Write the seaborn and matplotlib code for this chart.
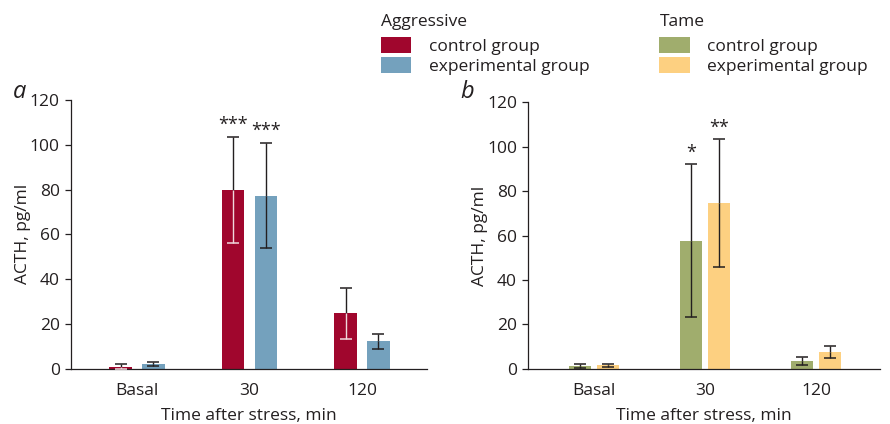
import matplotlib
matplotlib.use("Agg")
import matplotlib.pyplot as plt
import seaborn as sns
import pandas as pd
import numpy as np
from matplotlib.patches import Patch

# ---------------- data ----------------
times = ["Basal", "30", "120"]
groups = ["control group", "experimental group"]

aggr_control = [0.9, 79.8, 24.7]
aggr_control_err = [1.0, 23.7, 11.5]
aggr_exp = [2.2, 77.3, 12.2]
aggr_exp_err = [1.0, 23.6, 3.2]

tame_control = [1.3, 57.6, 3.4]
tame_control_err = [0.8, 34.5, 1.7]
tame_exp = [1.5, 74.6, 7.6]
tame_exp_err = [0.6, 28.7, 2.8]

aggr_stars = ["", "***", "", "", "***", ""]     # control..., experimental...
tame_stars = ["", "*", "", "", "**", ""]

y_ticks = [0, 20, 40, 60, 80, 100, 120]

# ---------------- style ----------------
TXT = "#231f20"
aggr_colors = ["#a0062d", "#74a1bd"]
tame_colors = ["#a0ad6d", "#fdd081"]
FONT = ["Open Sans", "DejaVu Sans"]

sns.set_theme(style="ticks")
plt.rcParams["font.family"] = FONT
plt.rcParams["text.color"] = TXT
plt.rcParams["axes.labelcolor"] = TXT
plt.rcParams["xtick.color"] = TXT
plt.rcParams["ytick.color"] = TXT
plt.rcParams["axes.edgecolor"] = TXT

fig = plt.figure(figsize=(8.9, 4.24), dpi=100)
ax_a = fig.add_axes([0.0798, 0.1304, 0.400, 0.6338])
ax_b = fig.add_axes([0.5933, 0.1304, 0.3955, 0.6280])


def make_df(c, e):
    return pd.DataFrame({
        "time": times * 2,
        "group": [groups[0]] * 3 + [groups[1]] * 3,
        "value": list(c) + list(e),
    })


def panel(ax, c, ce, e, ee, colors, stars, width, gap, inner_colors, star_offsets, xlim):
    df = make_df(c, e)
    sns.barplot(data=df, x="time", y="value", hue="group", order=times,
                hue_order=groups, palette=colors, errorbar=None, width=width,
                gap=gap, saturation=1, ax=ax, legend=False, linewidth=0)
    means = list(c) + list(e)
    errs = list(ce) + list(ee)
    inners = [inner_colors[0]] * 3 + [inner_colors[1]] * 3
    bars = [p for p in ax.patches]
    # seaborn adds patches hue by hue, in order
    for i, p in enumerate(bars[:6]):
        x = p.get_x() + p.get_width() / 2
        m, er = means[i], errs[i]
        ax.plot([x, x], [m, m + er], color=TXT, lw=1.0, zorder=3, solid_capstyle="butt")
        ax.plot([x], [m + er], marker="_", ms=8.5, mew=1.1, color=TXT, zorder=3)
        ax.plot([x, x], [m - er, m], color=inners[i], lw=1.0, zorder=3, solid_capstyle="butt")
        ax.plot([x], [max(m - er, 0)], marker="_", ms=8.5, mew=1.1, color=inners[i], zorder=3)
        if stars[i]:
            ax.text(x, m + er + star_offsets[i], stars[i], ha="center", va="bottom",
                    fontsize=13, color=TXT)
    ax.set_ylim(0, 120)
    ax.set_xlim(*xlim)
    ax.set_yticks(y_ticks)
    ax.set_yticklabels([str(t) for t in y_ticks], fontsize=12.5)
    ax.set_xticks(range(len(times)))
    ax.set_xticklabels(times, fontsize=12.5)
    ax.tick_params(axis="x", length=0, pad=10)
    ax.tick_params(axis="y", length=4, width=0.9, pad=4, direction="out")
    ax.set_xlabel("Time after stress, min", fontsize=12.5, labelpad=7)
    ax.set_ylabel("ACTH, pg/ml", fontsize=12.5, labelpad=-1)
    for s in ["top", "right"]:
        ax.spines[s].set_visible(False)
    for s in ["left", "bottom"]:
        ax.spines[s].set_linewidth(0.9)
        ax.spines[s].set_color(TXT)
    ax.set_facecolor("none")


panel(ax_a, aggr_control, aggr_control_err, aggr_exp, aggr_exp_err, aggr_colors,
      aggr_stars, 0.58, 0.31, ["#f0d8dc", TXT], [1.2] * 6, (-0.587, 2.578))
panel(ax_b, tame_control, tame_control_err, tame_exp, tame_exp_err, tame_colors,
      tame_stars, 0.505, 0.21, [TXT, TXT], [1.2] * 6, (-0.595, 2.577))

fig.text(0.015, 0.768, "a", fontsize=17, style="italic", color=TXT, family=["Open Sans", "DejaVu Sans"])
fig.text(0.517, 0.768, "b", fontsize=17, style="italic", color=TXT, family=["Open Sans", "DejaVu Sans"])

# legends
def legend(title, colors, x, y):
    handles = [Patch(facecolor=colors[i], edgecolor="none", label=groups[i]) for i in range(2)]
    leg = fig.legend(handles=handles, title=title, loc="upper left", bbox_to_anchor=(x, y),
                     frameon=False, fontsize=12.5, title_fontsize=12.5, alignment="left",
                     handlelength=1.75, handleheight=1.0, handletextpad=1.0,
                     labelspacing=0.12, borderaxespad=0, borderpad=0)
    for t in leg.get_texts():
        t.set_color(TXT)
    leg.get_title().set_color(TXT)
    leg._legend_box.sep = 5
    return leg

legend("Aggressive", aggr_colors, 0.428, 0.966)
legend("Tame", tame_colors, 0.741, 0.966)

fig.savefig("out.png", dpi=100)
